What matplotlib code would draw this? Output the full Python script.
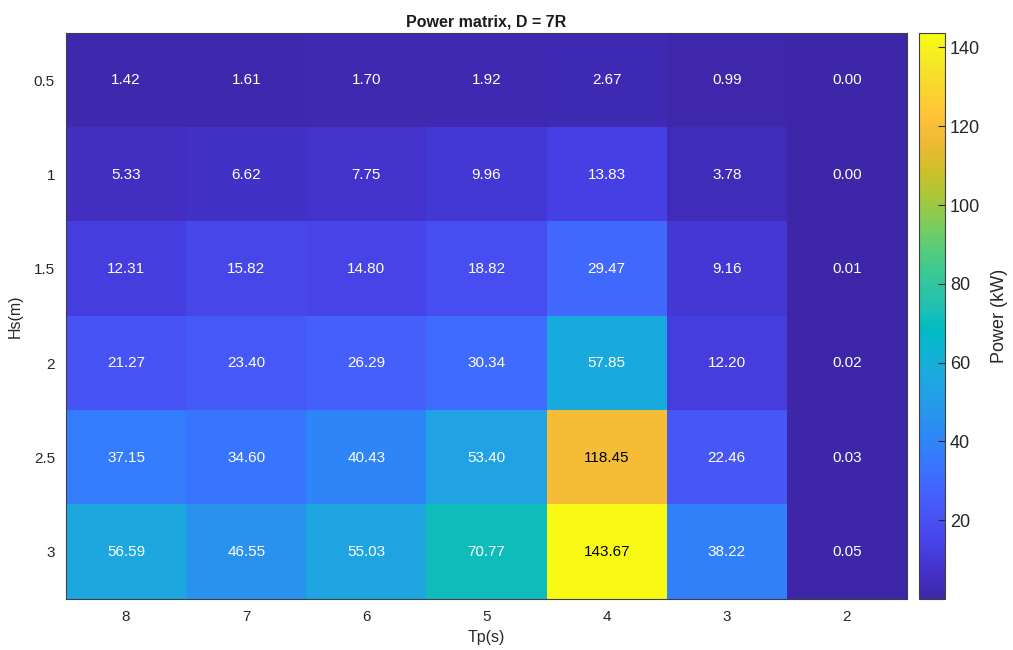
import numpy as np
import matplotlib.pyplot as plt
from matplotlib.colors import LinearSegmentedColormap

# 数据
tp_labels = ['8', '7', '6', '5', '4', '3', '2']
hs_labels = ['0.5', '1', '1.5', '2', '2.5', '3']
row_05 = [1.42, 1.61, 1.70, 1.92, 2.67, 0.99, 0.00]
row_1 = [5.33, 6.62, 7.75, 9.96, 13.83, 3.78, 0.00]
row_15 = [12.31, 15.82, 14.80, 18.82, 29.47, 9.16, 0.01]
row_2 = [21.27, 23.40, 26.29, 30.34, 57.85, 12.20, 0.02]
row_25 = [37.15, 34.60, 40.43, 53.40, 118.45, 22.46, 0.03]
row_3 = [56.59, 46.55, 55.03, 70.77, 143.67, 38.22, 0.05]
power = np.array([row_05, row_1, row_15, row_2, row_25, row_3])

# parula 色图（近似）
parula_pts = [
    (0.2422, 0.1504, 0.6603), (0.2647, 0.1978, 0.7952), (0.2783, 0.2559, 0.8991),
    (0.2810, 0.3228, 0.9579), (0.2699, 0.3892, 0.9906), (0.2206, 0.4603, 0.9973),
    (0.1786, 0.5289, 0.9682), (0.1540, 0.5902, 0.9218), (0.1248, 0.6459, 0.8883),
    (0.0689, 0.6948, 0.8394), (0.0067, 0.7312, 0.7660), (0.1408, 0.7584, 0.6842),
    (0.2161, 0.7843, 0.5923), (0.3406, 0.8008, 0.4789), (0.5044, 0.7993, 0.3480),
    (0.6720, 0.7793, 0.2227), (0.8203, 0.7498, 0.1535), (0.9393, 0.7288, 0.2100),
    (0.9970, 0.7659, 0.2199), (0.9786, 0.8386, 0.1766), (0.9597, 0.9135, 0.1423),
    (0.9769, 0.9839, 0.0805),
]
parula = LinearSegmentedColormap.from_list('parula', parula_pts, N=256)

plt.rcParams['font.family'] = ['Liberation Sans', 'DejaVu Sans']

fig = plt.figure(figsize=(10.13, 6.5), dpi=100)
ax = fig.add_axes([66 / 1013, 1 - 599 / 650, 841 / 1013, 566 / 650])
cax = fig.add_axes([919 / 1013, 1 - 599 / 650, 26 / 1013, 566 / 650])

vmin, vmax = power.min(), power.max()
im = ax.imshow(power, cmap=parula, vmin=vmin, vmax=vmax, aspect='auto')

for i in range(power.shape[0]):
    for j in range(power.shape[1]):
        v = power[i, j]
        r, g, b, _ = parula((v - vmin) / (vmax - vmin))
        lum = 0.299 * r + 0.587 * g + 0.114 * b
        color = 'black' if lum > 0.6 else 'white'
        ax.text(j, i, f'{v:.2f}', ha='center', va='center', color=color, fontsize=11)

ax.set_xticks(range(len(tp_labels)))
ax.set_xticklabels(tp_labels)
ax.set_yticks(range(len(hs_labels)))
ax.set_yticklabels(hs_labels)
ax.tick_params(length=0, labelsize=11, colors='#262626', pad=8)
ax.set_xlabel('Tp(s)', fontsize=11.5, color='#262626', labelpad=4)
ax.set_ylabel('Hs(m)', fontsize=11.5, color='#262626', labelpad=8)
ax.set_title('Power matrix, D = 7R', fontsize=11.5, fontweight='bold', color='#1a1a1a', pad=5)
for s in ax.spines.values():
    s.set_color('#404040')
    s.set_linewidth(0.8)

cb = fig.colorbar(im, cax=cax)
cb.set_ticks([20, 40, 60, 80, 100, 120, 140])
cb.ax.tick_params(labelsize=13, direction='in', length=5, colors='#262626', width=0.8)
cb.outline.set_edgecolor('#404040')
cb.outline.set_linewidth(0.8)
cb.set_label('Power (kW)', fontsize=13, color='#262626', labelpad=8)

fig.savefig('out.png', dpi=100)
